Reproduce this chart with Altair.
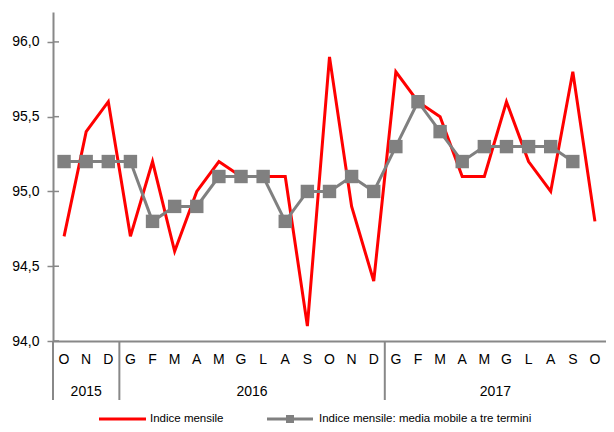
import altair as alt
import pandas as pd

months = ["O", "N", "D", "G", "F", "M", "A", "M", "G", "L", "A", "S", "O", "N", "D",
          "G", "F", "M", "A", "M", "G", "L", "A", "S", "O"]
monthly = [94.7, 95.4, 95.6, 94.7, 95.2, 94.6, 95.0, 95.2, 95.1, 95.1, 95.1, 94.1, 95.9,
           94.9, 94.4, 95.8, 95.6, 95.5, 95.1, 95.1, 95.6, 95.2, 95.0, 95.8, 94.8]
moving = [95.2, 95.2, 95.2, 95.2, 94.8, 94.9, 94.9, 95.1, 95.1, 95.1, 94.8, 95.0, 95.0,
          95.1, 95.0, 95.3, 95.6, 95.4, 95.2, 95.3, 95.3, 95.3, 95.3, 95.2]
years = ["2015", "2016", "2017"]
year_first = [0, 3, 15]
year_last = [2, 14, 24]
series_names = ["Indice mensile", "Indice mensile: media mobile a tre termini"]
y_ticks = [94.0, 94.5, 95.0, 95.5, 96.0]

RED = "#FF0000"
GRAY = "#808080"
AXIS_GRAY = "#888888"
FONT = "Liberation Sans, Arial, sans-serif"
W, H = 553, 329

idx = list(range(len(months)))
df_red = pd.DataFrame({"idx": idx, "value": monthly, "month": months})
df_gray = pd.DataFrame({"idx": idx[:len(moving)], "value": moving})
df_years = pd.DataFrame({"year": years,
                         "center": [(a + b) / 2 for a, b in zip(year_first, year_last)],
                         "sep": [a - 0.5 for a in year_first]})
df_ticks = pd.DataFrame({"t": y_ticks})
df_leg1 = pd.DataFrame({"name": [series_names[0]]})
df_leg2 = pd.DataFrame({"name": [series_names[1]]})

xscale = alt.Scale(domain=[-0.5, len(months) - 0.5], nice=False, zero=False)
yscale = alt.Scale(domain=[94.0, 96.2], nice=False, zero=False)
xaxis = alt.Axis(labels=False, ticks=False, grid=False, domainColor=AXIS_GRAY,
                 domainWidth=2, title=None)
yaxis = alt.Axis(values=y_ticks, labelExpr="replace(format(datum.value, '.1f'), '.', ',')",
                 grid=False, domainColor=AXIS_GRAY, domainWidth=2, tickColor=AXIS_GRAY,
                 tickSize=6, tickWidth=1.5, labelFont=FONT, labelFontSize=14,
                 labelColor="#000000", labelPadding=8, title=None)


def X(field):
    return alt.X(f"{field}:Q", scale=xscale, axis=xaxis)


def Y(field):
    return alt.Y(f"{field}:Q", scale=yscale, axis=yaxis)


red_line = alt.Chart(df_red).mark_line(color=RED, strokeWidth=3).encode(x=X("idx"), y=Y("value"))
gray_line = alt.Chart(df_gray).mark_line(color=GRAY, strokeWidth=3).encode(x=X("idx"), y=Y("value"))
gray_pts = alt.Chart(df_gray).mark_point(shape="square", filled=True, size=180, color=GRAY,
                                         opacity=1).encode(x=X("idx"), y=Y("value"))
inner_ticks = alt.Chart(df_ticks).mark_rule(color=AXIS_GRAY, strokeWidth=1.5).encode(
    y=Y("t"), x=alt.value(0), x2=alt.value(6))

month_text = alt.Chart(df_red).mark_text(font=FONT, fontSize=14, color="#000000",
                                         baseline="middle").encode(
    x=X("idx"), y=alt.value(H + 19), text="month:N")
year_text = alt.Chart(df_years).mark_text(font=FONT, fontSize=14, color="#000000",
                                          baseline="middle").encode(
    x=X("center"), y=alt.value(H + 51), text="year:N")
seps = alt.Chart(df_years).mark_rule(color=AXIS_GRAY, strokeWidth=2).encode(
    x=X("sep"), y=alt.value(H), y2=alt.value(H + 59))

LY = H + 78
leg1_line = alt.Chart(df_leg1).mark_rule(color=RED, strokeWidth=3).encode(
    x=alt.value(46), x2=alt.value(93), y=alt.value(LY))
leg1_text = alt.Chart(df_leg1).mark_text(font=FONT, fontSize=11.5, align="left",
                                         baseline="middle", color="#000000").encode(
    x=alt.value(97), y=alt.value(LY), text="name:N")
leg2_line = alt.Chart(df_leg2).mark_rule(color=GRAY, strokeWidth=3).encode(
    x=alt.value(214), x2=alt.value(260), y=alt.value(LY))
leg2_pt = alt.Chart(df_leg2).mark_point(shape="square", filled=True, size=64, color=GRAY,
                                        opacity=1).encode(x=alt.value(237), y=alt.value(LY))
leg2_text = alt.Chart(df_leg2).mark_text(font=FONT, fontSize=11.5, align="left",
                                         baseline="middle", color="#000000").encode(
    x=alt.value(266), y=alt.value(LY), text="name:N")

chart = alt.layer(
    seps, inner_ticks, red_line, gray_line, gray_pts, month_text, year_text,
    leg1_line, leg1_text, leg2_line, leg2_pt, leg2_text
).properties(
    width=W, height=H,
    autosize=alt.AutoSizeParams(type="none"),
    padding={"left": 45, "top": 4, "right": 0, "bottom": 83},
).configure_view(stroke=None)

chart.save("out.html", embed_options={"renderer": "svg", "actions": False})
